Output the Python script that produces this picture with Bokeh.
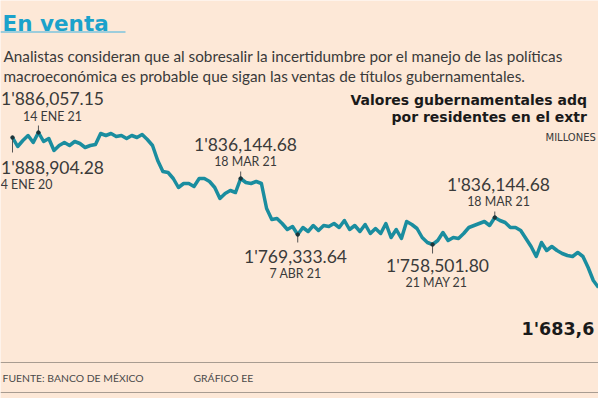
from bokeh.plotting import figure
from bokeh.models import Range1d
from bokeh.core.properties import value
from bokeh.embed import file_html
from bokeh.resources import INLINE

# ---------------- data (millones de pesos) ----------------
valores = [
    1888900, 1877920, 1885240, 1891340, 1882800, 1895000, 1884020, 1887680, 1873040, 1879140,
    1882800, 1879140, 1884020, 1881580, 1876700, 1879140, 1880360, 1893780, 1891340, 1893780,
    1890120, 1891340, 1887680, 1891340, 1888900, 1892560, 1886460, 1879140, 1860840, 1847420,
    1846200, 1838880, 1827900, 1832780, 1832780, 1829120, 1838880, 1838880, 1835220, 1827900,
    1814480, 1820580, 1824240, 1821800, 1838880, 1834000, 1832780, 1835220, 1832780, 1802280,
    1788860, 1790080, 1783980, 1776660, 1780320, 1770560, 1779100, 1774220, 1781540, 1775440,
    1781540, 1780320, 1783980, 1779100, 1787640, 1776660, 1781540, 1774220, 1782760, 1771780,
    1777880, 1771780, 1783980, 1766900, 1776660, 1765680, 1786420, 1782760, 1777880, 1766900,
    1760800, 1758360, 1763240, 1773000, 1763240, 1766900, 1765680, 1771780, 1779100, 1781540,
    1783980, 1786420, 1781540, 1791300, 1787640, 1785200, 1779100, 1779100, 1775440, 1765680,
    1755920, 1743720, 1760800, 1751040, 1755920, 1751040, 1747380, 1744940, 1743720, 1748600,
    1743720, 1730300, 1714440, 1705900,
]
observacion = list(range(len(valores)))

anot_obs = [0, 5, 44, 55, 81, 93]
anot_valor = ["1'888,904.28", "1'886,057.15", "1'836,144.68", "1'769,333.64", "1'758,501.80", "1'836,144.68"]
anot_fecha = ["4 ENE 20", "14 ENE 21", "18 MAR 21", "7 ABR 21", "21 MAY 21", "18 MAR 21"]

titulo = "En venta"
subtitulo = [
    "Analistas consideran que al sobresalir la incertidumbre por el manejo de las políticas",
    "macroeconómica es probable que sigan las ventas de títulos gubernamentales.",
]
titulo_graf = ["Valores gubernamentales adq", "por residentes en el extr"]
unidades = "MILLONES"
ultimo = "1'683,6"
fuente = "FUENTE: BANCO DE MÉXICO"
credito = "GRÁFICO EE"

# ---------------- layout / style ----------------
BG = "#fde8d7"
TEAL = "#1a8d9f"
TXT = "#3a3a3a"
FONT = value("Lato")
BOLD = value("DejaVu Sans")
W, H = 598, 398

VAL_START, VAL_END = 1570480, 2056040
OBS_START, OBS_END = -2.314, 113.0
VPX = (VAL_END - VAL_START) / H

p = figure(width=W, height=H, x_range=Range1d(0, W), y_range=Range1d(H, 0),
           output_backend="svg", toolbar_location=None, min_border=0,
           x_axis_type=None, y_axis_type=None,
           background_fill_color=BG, border_fill_color=BG, outline_line_color=None)
p.grid.visible = False
p.extra_x_ranges = {"obs": Range1d(OBS_START, OBS_END)}
p.extra_y_ranges = {"val": Range1d(VAL_START, VAL_END)}

# headline
p.text(x=[2], y=[23], text=[titulo], text_font=BOLD, text_font_style="bold",
       text_font_size="21.5px", text_color="#1ba2cb", text_baseline="alphabetic")
p.segment(x0=[0], y0=[31.5], x1=[125], y1=[31.5], line_color="#7cc5de", line_width=1.5)
p.text(x=[3, 3], y=[55, 75], text=subtitulo, text_font=FONT,
       text_font_size="15.3px", text_color=TXT, text_baseline="alphabetic")

# chart title (cut at the right edge like the reference)
p.text(x=[350, 391], y=[99, 116], text=titulo_graf, text_font=BOLD, text_font_style="bold",
       text_font_size="14px", text_color="#1a1a1a", text_baseline="middle")
p.text(x=[545], y=[137], text=[unidades], text_font=BOLD,
       text_font_size="10px", text_color=TXT, text_baseline="middle")

# series
p.line(observacion, valores, x_range_name="obs", y_range_name="val",
       line_color=TEAL, line_width=3.5, line_join="round")

# annotation ticks and dots
tick_dir = [-15, 7, 7, -8, -9, 6]
ay = [valores[i] for i in anot_obs]
p.segment(x0=anot_obs, y0=ay, x1=anot_obs, y1=[v + d * VPX for v, d in zip(ay, tick_dir)],
          x_range_name="obs", y_range_name="val", line_color="#555555", line_width=1)
p.scatter(anot_obs, ay, x_range_name="obs", y_range_name="val", size=3.5,
          color="#1b3439")

val_pos = [(52, 167), (52, 98), (245, 144), (295, 256), (437, 265), (498, 184)]
fec_pos = [(26, 184), (52, 116), (245, 161), (295, 273), (436, 282), (498, 201)]
p.text(x=[a for a, b in val_pos], y=[b for a, b in val_pos], text=anot_valor, text_font=FONT,
       text_font_size="17.5px", text_color=TXT, text_align="center", text_baseline="middle")
p.text(x=[a for a, b in fec_pos], y=[b for a, b in fec_pos], text=anot_fecha, text_font=FONT,
       text_font_size="12.4px", text_color=TXT, text_align="center", text_baseline="middle")

# last value
p.text(x=[521], y=[328], text=[ultimo], text_font=BOLD, text_font_style="bold",
       text_font_size="17.5px", text_color="#1a1a1a", text_baseline="middle")

# footer
p.segment(x0=[0, 0], y0=[362, 392], x1=[W, W], y1=[362, 392],
          line_color="#a89c91", line_width=1.2)
p.text(x=[2, 193], y=[377, 377], text=[fuente, credito], text_font=FONT,
       text_font_size="10.4px", text_color="#4a4a4a", text_baseline="middle")

open("out.html", "w").write(file_html(p, INLINE))
